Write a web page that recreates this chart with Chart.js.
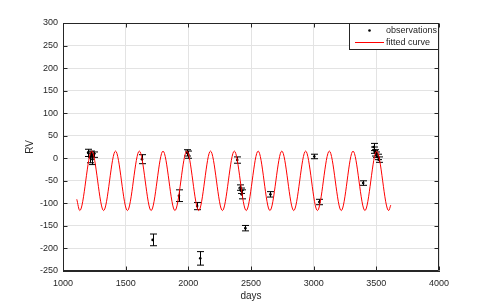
<!DOCTYPE html>
<html>
<head>
<meta charset="utf-8">
<script src="https://cdn.jsdelivr.net/npm/chart.js@4/dist/chart.umd.min.js"></script>
<style>
  body { margin: 0; background: #fff; }
  canvas { display: block; }
</style>
</head>
<body>
<canvas id="rvChart" width="485" height="305"></canvas>
<script>
// observations (days, RV, error)
const obsDays = [1200, 1212, 1222, 1235, 1245, 1630, 1715, 1925, 1990, 2000, 2070, 2095,
                 2390, 2415, 2420, 2425, 2455, 2655, 3005, 3045, 3395,
                 3478, 3485, 3492, 3500, 3510, 3518];
const obsRV = [12, 2, 10, -2, 8, -2, -181, -83, 12, 8, -106, -222,
               -4, -65, -72, -80, -155, -80, 4, -97, -55,
               25, 18, 12, 8, 3, -3];
const obsErr = [8, 12, 6, 12, 6, 10, 13, 13, 7, 8, 8, 15,
                7, 6, 6, 10, 6, 6, 5, 6, 5,
                8, 7, 7, 6, 6, 6];

// fitted curve, read at its ends and turning points
const curveDays = [1110, 1134, 1229, 1324, 1419, 1514, 1609, 1703, 1798, 1893, 1988, 2083,
                   2177, 2272, 2367, 2462, 2557, 2651, 2746, 2841, 2936, 3030, 3125,
                   3220, 3314, 3409, 3503, 3598, 3615];
const curveRV = [-91, -116, 16, -116, 16, -116, 16, -116, 16, -116, 16, -116,
                 16, -116, 16, -116, 16, -116, 16, -116, 16, -116, 16,
                 -116, 16, -116, 16, -116, -104];

const xTicks = [1000, 1500, 2000, 2500, 3000, 3500, 4000];
const yTicks = [-250, -200, -150, -100, -50, 0, 50, 100, 150, 200, 250, 300];

const axisColor = '#262626';
const fontFam = '"Liberation Sans", Arial, sans-serif';

const toXY = (xs, ys) => xs.map((x, i) => ({ x: x, y: ys[i] }));

// error bars under the points
const errorBars = {
  id: 'errorBars',
  beforeDatasetsDraw(chart) {
    const ctx = chart.ctx;
    const xs = chart.scales.x, ys = chart.scales.y;
    ctx.save();
    ctx.strokeStyle = '#000';
    ctx.lineWidth = 1;
    for (let i = 0; i < obsDays.length; i++) {
      const px = Math.round(xs.getPixelForValue(obsDays[i])) + 0.5;
      const top = ys.getPixelForValue(obsRV[i] + obsErr[i]);
      const bot = ys.getPixelForValue(obsRV[i] - obsErr[i]);
      ctx.beginPath();
      ctx.moveTo(px, top); ctx.lineTo(px, bot);
      ctx.moveTo(px - 3.5, top); ctx.lineTo(px + 3.5, top);
      ctx.moveTo(px - 3.5, bot); ctx.lineTo(px + 3.5, bot);
      ctx.stroke();
    }
    ctx.restore();
  }
};

// matlab style box, inward ticks and legend
const boxAndLegend = {
  id: 'boxAndLegend',
  afterDraw(chart) {
    const ctx = chart.ctx;
    const a = chart.chartArea;
    const xs = chart.scales.x, ys = chart.scales.y;
    const L = Math.round(a.left) + 0.5, R = Math.round(a.right) - 0.5;
    const T = Math.round(a.top) + 0.5, B = Math.round(a.bottom) - 0.5;
    ctx.save();
    ctx.strokeStyle = axisColor;
    ctx.lineWidth = 1;
    ctx.beginPath();
    ctx.moveTo(L, T); ctx.lineTo(R, T); ctx.lineTo(R, B);
    ctx.moveTo(L, T); ctx.lineTo(L, B); ctx.lineTo(R, B);
    xTicks.forEach(v => {
      const p = Math.round(xs.getPixelForValue(v)) + 0.5;
      ctx.moveTo(p, B); ctx.lineTo(p, B - 4);
      ctx.moveTo(p, T); ctx.lineTo(p, T + 4);
    });
    yTicks.forEach(v => {
      const p = Math.round(ys.getPixelForValue(v)) + 0.5;
      ctx.moveTo(L, p); ctx.lineTo(L + 4, p);
      ctx.moveTo(R, p); ctx.lineTo(R - 4, p);
    });
    ctx.stroke();

    // legend box
    const bx = 349.5, by = T, bw = R - bx, bh = 26;
    ctx.fillStyle = '#fff';
    ctx.fillRect(bx, by, bw, bh);
    ctx.strokeRect(bx, by, bw, bh);
    ctx.fillStyle = '#000';
    ctx.beginPath();
    ctx.arc(369.5, 30.5, 1.3, 0, Math.PI * 2);
    ctx.fill();
    ctx.strokeStyle = '#ff0000';
    ctx.beginPath();
    ctx.moveTo(355, 42.5); ctx.lineTo(384, 42.5);
    ctx.stroke();
    ctx.fillStyle = axisColor;
    ctx.font = '9px ' + fontFam;
    ctx.textBaseline = 'middle';
    ctx.textAlign = 'left';
    ctx.fillText('observations', 386, 31);
    ctx.fillText('fitted curve', 386, 42.5);
    ctx.restore();
  }
};

new Chart(document.getElementById('rvChart'), {
  type: 'scatter',
  data: {
    datasets: [
      {
        label: 'fitted curve',
        type: 'line',
        data: toXY(curveDays, curveRV),
        borderColor: '#ff0000',
        borderWidth: 1,
        pointRadius: 0,
        fill: false,
        cubicInterpolationMode: 'monotone',
        order: 0
      },
      {
        label: 'observations',
        data: toXY(obsDays, obsRV),
        backgroundColor: '#000',
        borderColor: '#000',
        pointRadius: 1.3,
        borderWidth: 0,
        order: 1
      }
    ]
  },
  options: {
    responsive: false,
    animation: false,
    layout: { padding: { top: 23, right: 46, left: 0, bottom: 0 } },
    plugins: { legend: { display: false }, tooltip: { enabled: false } },
    scales: {
      x: {
        type: 'linear',
        min: 1000, max: 4000,
        afterFit(s) { s.height = 34; },
        afterBuildTicks(s) { s.ticks = xTicks.map(v => ({ value: v })); },
        grid: { color: '#e3e3e3', drawTicks: false },
        border: { color: axisColor },
        ticks: { padding: 7, color: axisColor, font: { family: fontFam, size: 9 }, maxRotation: 0,
                 callback: v => String(v) },
        title: { display: true, text: 'days', color: axisColor, padding: 3, font: { family: fontFam, size: 10 } }
      },
      y: {
        type: 'linear',
        min: -250, max: 300,
        afterFit(s) { s.width = 63; },
        afterBuildTicks(s) { s.ticks = yTicks.map(v => ({ value: v })); },
        grid: { color: '#e3e3e3', drawTicks: false },
        border: { color: axisColor },
        ticks: { padding: 5, color: axisColor, font: { family: fontFam, size: 9 },
                 callback: v => String(v) },
        title: { display: true, text: 'RV', color: axisColor, padding: 24, font: { family: fontFam, size: 10 } }
      }
    }
  },
  plugins: [errorBars, boxAndLegend]
});
</script>
</body>
</html>
